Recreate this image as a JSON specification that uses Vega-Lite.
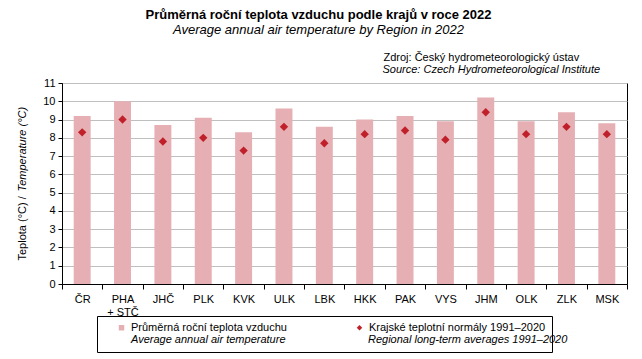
{
  "$schema": "https://vega.github.io/schema/vega-lite/v6.json",
  "width": 565,
  "height": 201,
  "autosize": {"type": "none"},
  "padding": {"left": 62, "top": 83, "right": 15, "bottom": 75},
  "background": "white",
  "title": {
    "text": "Průměrná roční teplota vzduchu podle krajů v roce 2022",
    "subtitle": "Average annual air temperature by Region in 2022",
    "font": "Liberation Sans",
    "fontSize": 13,
    "fontWeight": "bold",
    "color": "#000",
    "subtitleFont": "Liberation Sans",
    "subtitleFontSize": 13,
    "subtitleFontStyle": "italic",
    "subtitleColor": "#000",
    "subtitlePadding": 2,
    "anchor": "middle",
    "dx": -26,
    "offset": 14
  },
  "config": {
    "font": "Liberation Sans",
    "view": {"stroke": "#000", "strokeWidth": 1},
    "axis": {
      "labelFont": "Liberation Sans",
      "labelFontSize": 11,
      "labelColor": "#000",
      "domainColor": "#000",
      "tickColor": "#000",
      "titleFont": "Liberation Sans",
      "titleFontSize": 11,
      "titleFontWeight": "normal",
      "titleColor": "#000"
    },
    "legend": {
      "labelFont": "Liberation Sans",
      "labelFontSize": 11,
      "labelColor": "#000",
      "labelLimit": 400
    }
  },
  "data": {
    "values": [
      {"region": "ČR", "series": "Průměrná roční teplota vzduchu", "series_en": "Average annual air temperature", "value": 9.2},
      {"region": "PHA + STČ", "series": "Průměrná roční teplota vzduchu", "series_en": "Average annual air temperature", "value": 10.0},
      {"region": "JHČ", "series": "Průměrná roční teplota vzduchu", "series_en": "Average annual air temperature", "value": 8.7},
      {"region": "PLK", "series": "Průměrná roční teplota vzduchu", "series_en": "Average annual air temperature", "value": 9.1},
      {"region": "KVK", "series": "Průměrná roční teplota vzduchu", "series_en": "Average annual air temperature", "value": 8.3},
      {"region": "ULK", "series": "Průměrná roční teplota vzduchu", "series_en": "Average annual air temperature", "value": 9.6},
      {"region": "LBK", "series": "Průměrná roční teplota vzduchu", "series_en": "Average annual air temperature", "value": 8.6},
      {"region": "HKK", "series": "Průměrná roční teplota vzduchu", "series_en": "Average annual air temperature", "value": 9.0},
      {"region": "PAK", "series": "Průměrná roční teplota vzduchu", "series_en": "Average annual air temperature", "value": 9.2},
      {"region": "VYS", "series": "Průměrná roční teplota vzduchu", "series_en": "Average annual air temperature", "value": 8.9},
      {"region": "JHM", "series": "Průměrná roční teplota vzduchu", "series_en": "Average annual air temperature", "value": 10.2},
      {"region": "OLK", "series": "Průměrná roční teplota vzduchu", "series_en": "Average annual air temperature", "value": 8.9},
      {"region": "ZLK", "series": "Průměrná roční teplota vzduchu", "series_en": "Average annual air temperature", "value": 9.4},
      {"region": "MSK", "series": "Průměrná roční teplota vzduchu", "series_en": "Average annual air temperature", "value": 8.8},
      {"region": "ČR", "series": "Krajské teplotní normály 1991–2020", "series_en": "Regional long-term averages 1991–2020", "value": 8.3},
      {"region": "PHA + STČ", "series": "Krajské teplotní normály 1991–2020", "series_en": "Regional long-term averages 1991–2020", "value": 9.0},
      {"region": "JHČ", "series": "Krajské teplotní normály 1991–2020", "series_en": "Regional long-term averages 1991–2020", "value": 7.8},
      {"region": "PLK", "series": "Krajské teplotní normály 1991–2020", "series_en": "Regional long-term averages 1991–2020", "value": 8.0},
      {"region": "KVK", "series": "Krajské teplotní normály 1991–2020", "series_en": "Regional long-term averages 1991–2020", "value": 7.3},
      {"region": "ULK", "series": "Krajské teplotní normály 1991–2020", "series_en": "Regional long-term averages 1991–2020", "value": 8.6},
      {"region": "LBK", "series": "Krajské teplotní normály 1991–2020", "series_en": "Regional long-term averages 1991–2020", "value": 7.7},
      {"region": "HKK", "series": "Krajské teplotní normály 1991–2020", "series_en": "Regional long-term averages 1991–2020", "value": 8.2},
      {"region": "PAK", "series": "Krajské teplotní normály 1991–2020", "series_en": "Regional long-term averages 1991–2020", "value": 8.4},
      {"region": "VYS", "series": "Krajské teplotní normály 1991–2020", "series_en": "Regional long-term averages 1991–2020", "value": 7.9},
      {"region": "JHM", "series": "Krajské teplotní normály 1991–2020", "series_en": "Regional long-term averages 1991–2020", "value": 9.4},
      {"region": "OLK", "series": "Krajské teplotní normály 1991–2020", "series_en": "Regional long-term averages 1991–2020", "value": 8.2},
      {"region": "ZLK", "series": "Krajské teplotní normály 1991–2020", "series_en": "Regional long-term averages 1991–2020", "value": 8.6},
      {"region": "MSK", "series": "Krajské teplotní normály 1991–2020", "series_en": "Regional long-term averages 1991–2020", "value": 8.2}
    ]
  },
  "encoding": {
    "x": {
      "field": "region",
      "type": "nominal",
      "sort": ["ČR", "PHA + STČ", "JHČ", "PLK", "KVK", "ULK", "LBK", "HKK", "PAK", "VYS", "JHM", "OLK", "ZLK", "MSK"],
      "scale": {"paddingInner": 0, "paddingOuter": 0}
    },
    "y": {
      "field": "value",
      "type": "quantitative",
      "scale": {"domain": [0, 11], "nice": false, "zero": true}
    },
    "color": {
      "field": "series",
      "type": "nominal",
      "scale": {
        "domain": ["Průměrná roční teplota vzduchu", "Krajské teplotní normály 1991–2020"],
        "range": ["#e6afb3", "#c0202a"]
      },
      "legend": {
        "title": null,
        "orient": "none",
        "legendX": 35,
        "legendY": 233,
        "direction": "horizontal",
        "columns": 2,
        "columnPadding": 54,
        "padding": 6,
        "strokeColor": "#000",
        "symbolSize": 30,
        "symbolOffset": 13,
        "labelOffset": 4,
        "labelExpr": "datum.label == 'Průměrná roční teplota vzduchu' ? [datum.label, ' '] : [datum.label, pad('', 68, '\u00a0')]"
      }
    },
    "shape": {
      "field": "series",
      "type": "nominal",
      "scale": {
        "domain": ["Průměrná roční teplota vzduchu", "Krajské teplotní normály 1991–2020"],
        "range": ["square", "diamond"]
      }
    },
    "strokeDash": {
      "field": "series_en",
      "type": "nominal",
      "scale": {
        "domain": ["Average annual air temperature", "Regional long-term averages 1991–2020"],
        "range": [[1, 0], [1, 0]]
      },
      "legend": {
        "title": null,
        "orient": "none",
        "legendX": 35,
        "legendY": 245,
        "direction": "horizontal",
        "columns": 2,
        "columnPadding": 54,
        "padding": 6,
        "symbolType": "square",
        "symbolSize": 30,
        "symbolOffset": 13,
        "symbolOpacity": 0,
        "labelOffset": 4,
        "labelFontStyle": "italic"
      }
    }
  },
  "layer": [
    {
      "transform": [{"filter": "datum.series_en == 'Average annual air temperature'"}],
      "mark": {"type": "bar", "width": {"band": 0.42}, "strokeWidth": 0},
      "encoding": {
        "x": {
          "field": "region",
          "type": "nominal",
          "sort": ["ČR", "PHA + STČ", "JHČ", "PLK", "KVK", "ULK", "LBK", "HKK", "PAK", "VYS", "JHM", "OLK", "ZLK", "MSK"],
          "axis": {
            "orient": "bottom",
            "labelAngle": 0,
            "tickBand": "extent",
            "tickSize": 5,
            "labelPadding": 4,
            "grid": false,
            "labelExpr": "datum.label == 'PHA + STČ' ? ['PHA', '+ STČ'] : datum.label",
            "title": "Source: Czech Hydrometeorological Institute",
            "titleFontStyle": "italic",
            "titleAngle": 0,
            "titleX": 320,
            "titleY": -212,
            "titleAlign": "left",
            "titleBaseline": "alphabetic"
          }
        },
        "y": {
          "field": "value",
          "type": "quantitative",
          "axis": {
            "orient": "left",
            "values": [0, 1, 2, 3, 4, 5, 6, 7, 8, 9, 10, 11],
            "grid": true,
            "gridColor": "#bfbfbf",
            "tickSize": 4,
            "labelPadding": 3,
            "title": "Teplota (°C) / ",
            "titleAngle": -90,
            "titleX": -40,
            "titleY": 177,
            "titleAlign": "left",
            "titleBaseline": "middle"
          }
        }
      }
    },
    {
      "transform": [{"filter": "datum.series_en == 'Regional long-term averages 1991–2020'"}],
      "mark": {"type": "point", "filled": true, "size": 70, "opacity": 1},
      "encoding": {
        "x": {
          "field": "region",
          "type": "nominal",
          "sort": ["ČR", "PHA + STČ", "JHČ", "PLK", "KVK", "ULK", "LBK", "HKK", "PAK", "VYS", "JHM", "OLK", "ZLK", "MSK"],
          "axis": {
            "orient": "top",
            "domain": false,
            "ticks": false,
            "labels": false,
            "grid": false,
            "title": "Zdroj: Český hydrometeorologický ústav",
            "titleAngle": 0,
            "titleX": 321,
            "titleY": -23,
            "titleAlign": "left",
            "titleBaseline": "alphabetic"
          }
        },
        "y": {
          "field": "value",
          "type": "quantitative",
          "axis": {
            "orient": "right",
            "domain": false,
            "ticks": false,
            "labels": false,
            "grid": false,
            "title": "Temperature (°C)",
            "titleFontStyle": "italic",
            "titleAngle": -90,
            "titleX": -605,
            "titleY": 108,
            "titleAlign": "left",
            "titleBaseline": "middle"
          }
        }
      }
    }
  ],
  "resolve": {"axis": {"x": "independent", "y": "independent"}}
}
